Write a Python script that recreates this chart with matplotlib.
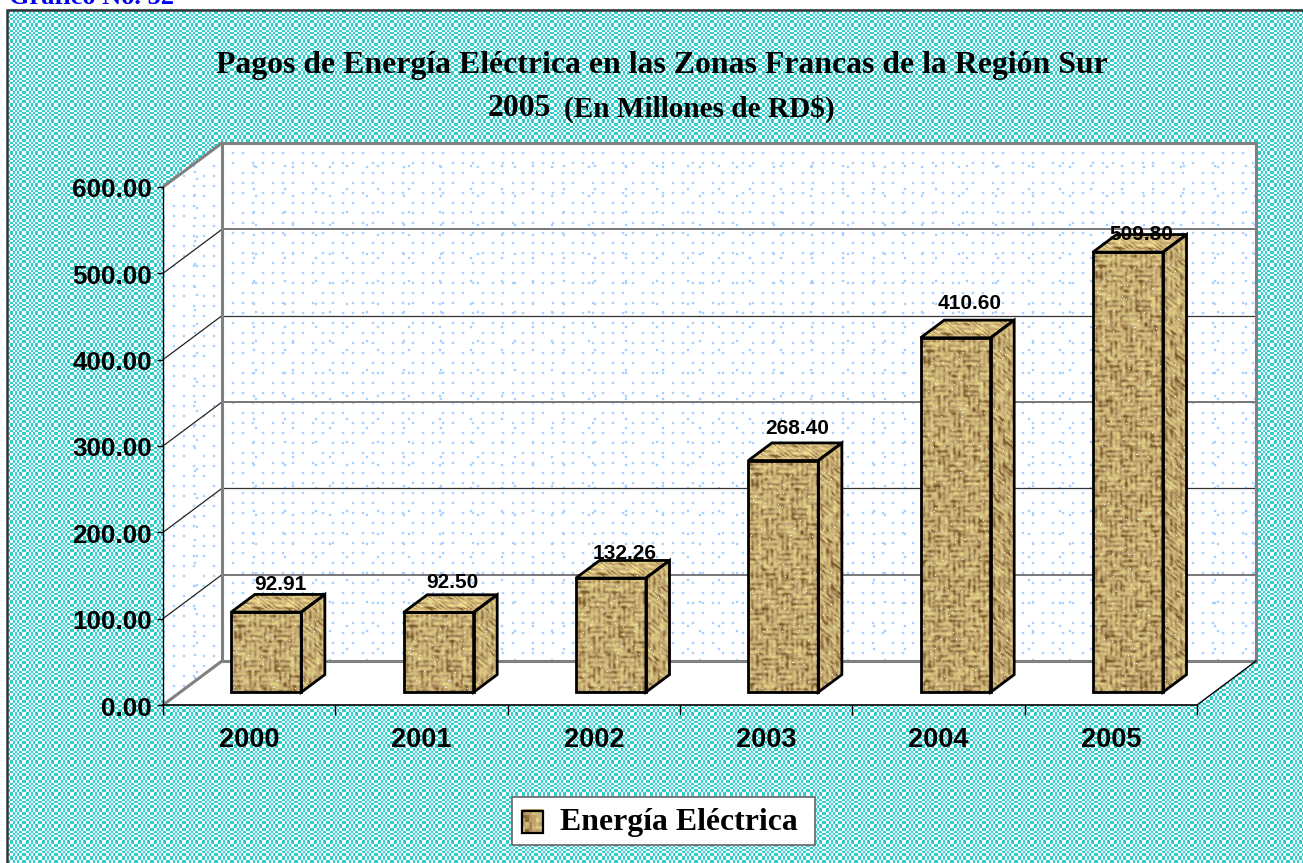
import numpy as np
import matplotlib
matplotlib.use('Agg')
import matplotlib.pyplot as plt
from matplotlib.patches import Patch, Polygon, Rectangle
from matplotlib.path import Path
from matplotlib.transforms import Affine2D, IdentityTransform

years = ['2000', '2001', '2002', '2003', '2004', '2005']
pagos = [92.91, 92.50, 132.26, 268.40, 410.60, 509.80]
etiquetas = ['92.91', '92.50', '132.26', '268.40', '410.60', '509.80']
y_ticks = [0, 100, 200, 300, 400, 500, 600]
titulo = 'Pagos de Energía Eléctrica en las Zonas Francas de la Región Sur'
subtitulo_a = '2005'
subtitulo_b = '(En Millones de RD$)'
leyenda = 'Energía Eléctrica'
grafico = 'Gráfico No. 52'

W, H = 1303, 863
DEPTH = np.array([59.0, 44.0])
BAR_W = 0.406
label_lift = [10, 12, 7, 14, 17, 0]

SANS = 'Liberation Sans'
SERIF = 'Liberation Serif'


def smooth(a):
    return (a + np.roll(a, 1, 0) + np.roll(a, -1, 0) + np.roll(a, 1, 1) + np.roll(a, -1, 1)) / 5


def bands(n):
    # plaid irregular del fondo: bandas de ancho desigual
    widths = [4, 3, 2, 2, 2, 3]
    out = []
    k = 0
    while len(out) < n:
        out += [k] * widths[k % len(widths)]
        k += 1
    return np.array(out[:n])


def background():
    u = bands(W + 20)[10:W + 10]
    v = bands(H + 20)[8:H + 8]
    mask = ((u[None, :] + v[:, None]) % 2 == 0).astype(float)
    mask = 0.85 * mask + 0.15 * smooth(mask)
    teal = np.array([46, 204, 204]) / 255
    img = teal + (1 - teal) * mask[..., None]
    img[:10] = 1
    img[:, :7] = 1
    return img


def dots():
    yy, xx = np.mgrid[0:H, 0:W]
    a = (xx % 10 < 2) & (yy % 10 < 2) & ((xx // 10 + yy // 10) % 4 != 0)
    b = (xx % 31 < 2) & (yy % 23 < 2)
    c = ((xx + 4) % 37 < 2) & ((yy + 5) % 29 < 2)
    mask = (a | b | c).astype(float)
    mask = 0.6 * mask + 0.8 * smooth(mask)
    blue = np.array([165, 208, 255]) / 255
    return 1 + (blue - 1) * np.clip(mask, 0, 1)[..., None]


def hash_noise(xx, yy):
    v = np.sin(xx * 12.9898 + yy * 78.233) * 43758.5453
    return v - np.floor(v)


def weave(w, h):
    yy, xx = np.mgrid[0:h, 0:w]
    block = (xx // 15 + yy // 15) % 2
    horiz = np.sin(2 * np.pi * yy / 5.0)
    vert = np.sin(2 * np.pi * xx / 5.0)
    s = np.where(block == 0, horiz, vert)
    n = hash_noise(xx.astype(float), yy.astype(float))
    lf = n
    for _ in range(4):
        lf = smooth(lf)
    lf = (lf - 0.5) * 5
    t = smooth(0.52 + 0.27 * s + 0.5 * lf + 0.25 * (n - 0.5))
    dark = np.array([122, 92, 42]) / 255
    mid = np.array([194, 166, 114]) / 255
    light = np.array([226, 210, 132]) / 255
    t = np.clip(t, 0, 1)[..., None]
    img = np.where(t < 0.5, dark + (mid - dark) * t * 2, mid + (light - mid) * (t - 0.5) * 2)
    img[n > 0.99] = np.array([240, 240, 225]) / 255
    return img


def shear_x(img, k):
    out = img.copy()
    for r in range(img.shape[0]):
        out[r] = np.roll(img[r], int(r * k), axis=0)
    return out


def shear_y(img, k):
    out = img.copy()
    for c in range(img.shape[1]):
        out[:, c] = np.roll(img[:, c], int(c * k), axis=0)
    return out


fig = plt.figure(figsize=(W / 100, H / 100), dpi=100)

# fondo
bg = fig.add_axes([0, 0, 1, 1], zorder=0)
bg.axis('off')
bg.set_autoscale_on(False)
bg.set_xlim(0, W)
bg.set_ylim(H, 0)
bg.imshow(background(), extent=(0, W, H, 0), aspect='auto', interpolation='nearest')
bg.plot([7, 7, W], [H, 10, 10], color='#333333', lw=1.8, solid_joinstyle='miter')
bg.text(9, 4, grafico, color='#0000ee', family=SERIF, weight='bold', fontsize=19, va='baseline', ha='left')

ax = fig.add_axes([163 / W, 1 - 705 / H, 1034 / W, 518 / H], zorder=1)
ax.patch.set_alpha(0)
ax.set_xlim(-0.5, 5.5)
ax.set_ylim(0, 600)
ax.set_autoscale_on(False)


def pt(x, v, d=0.0):
    return ax.transData.transform((x, v)) + d * DEPTH


def poly(target, points, **kw):
    p = Polygon(np.array(points), closed=True, transform=IdentityTransform(), clip_on=False, **kw)
    target.add_patch(p)
    return p


def line(a, b, **kw):
    bg.plot([a[0], b[0]], [a[1], b[1]], transform=IdentityTransform(), clip_on=False, **kw)


def image(target, img, points, zorder):
    # imagen recortada al poligono, en pixeles de pantalla
    pts = np.array(points)
    x0, y0 = pts.min(axis=0)
    x1, y1 = pts.max(axis=0)
    x0, y0, x1, y1 = np.floor(x0), np.floor(y0), np.ceil(x1), np.ceil(y1)
    h, w = int(y1 - y0), int(x1 - x0)
    im = target.imshow(img[:h, :w], extent=(x0, x1, y0, y1), transform=IdentityTransform(),
                       aspect='auto', interpolation='nearest', origin='upper', zorder=zorder)
    im.set_clip_path(Path(np.vstack([pts, pts[:1]])), IdentityTransform())


x0, x1 = ax.get_xlim()
y0, y1 = ax.get_ylim()

# paredes
wall_pts = [pt(x0, y0, 1), pt(x1, y0, 1), pt(x1, y1, 1), pt(x0, y1, 1)]
side_pts = [pt(x0, y0), pt(x0, y0, 1), pt(x0, y1, 1), pt(x0, y1)]
floor_pts = [pt(x0, y0), pt(x1, y0), pt(x1, y0, 1), pt(x0, y0, 1)]
dots_img = dots()
poly(bg, floor_pts, facecolor='white', edgecolor='none', zorder=1.1)
image(bg, dots_img, wall_pts, 1.2)
image(bg, dots_img[17:], side_pts, 1.2)

# lineas de la rejilla
for i, t in enumerate(y_ticks[1:-1]):
    grey = i % 2 == 0
    c = '#777777' if grey else '#333333'
    lw = 1.4 if grey else 0.9
    line(pt(x0, t, 1), pt(x1, t, 1), color=c, lw=lw, zorder=1.3)
    line(pt(x0, t), pt(x0, t, 1), color='#222222', lw=0.9, zorder=1.3)
gris = dict(color='#808080', lw=2.2, zorder=1.4, solid_capstyle='projecting')
line(pt(x0, y1, 1), pt(x1, y1, 1), **gris)
line(pt(x0, y0, 1), pt(x1, y0, 1), **gris)
line(pt(x0, y0, 1), pt(x0, y1, 1), **gris)
line(pt(x1, y0, 1), pt(x1, y1, 1), **gris)
line(pt(x0, y1), pt(x0, y1, 1), **gris)
line(pt(x0, y0), pt(x0, y0, 1), **gris)
line(pt(x1, y0), pt(x1, y0, 1), color='black', lw=1.0, zorder=1.4)

# barras
D0, D1 = 0.29, 0.69
tex = weave(120, 520)
tex_side = shear_y(weave(40, 520)[::-1], 0.75)
tex_top = shear_x(np.clip(weave(120, 30) * 1.06, 0, 1), 1.3)
for i, v in enumerate(pagos):
    l, r = i - BAR_W / 2, i + BAR_W / 2
    front = [pt(l, 0, D0), pt(r, 0, D0), pt(r, v, D0), pt(l, v, D0)]
    side = [pt(r, 0, D0), pt(r, 0, D1), pt(r, v, D1), pt(r, v, D0)]
    top = [pt(l, v, D0), pt(r, v, D0), pt(r, v, D1), pt(l, v, D1)]
    image(ax, tex, front, 2)
    image(ax, tex_side, side, 2)
    image(ax, tex_top, top, 2)
    for face in (front, side, top):
        poly(ax, face, facecolor='none', edgecolor='black', lw=2.0, joinstyle='miter', zorder=3)
    lx = (pt(l, v, D1)[0] + pt(r, v, D0)[0]) / 2 + 2
    ly = pt(l, v, D1)[1] + label_lift[i]
    ax.text(lx, ly, etiquetas[i], transform=IdentityTransform(), ha='center', va='center',
            family=SANS, weight='bold', fontsize=15, color='black', zorder=5, clip_on=False)

# ejes
for s in ['top', 'right']:
    ax.spines[s].set_visible(False)
ax.spines['left'].set_linewidth(1.0)
ax.spines['bottom'].set_linewidth(1.2)
ax.set_yticks(y_ticks)
ax.set_yticklabels(['%.2f' % t for t in y_ticks], family=SANS, weight='bold', fontsize=18.7)
ax.tick_params(axis='y', length=4, width=1, pad=4)
for lab in ax.get_yticklabels():
    lab.set_transform(lab.get_transform() + Affine2D().translate(0, -1))
ax.set_xticks(np.arange(-0.5, 6, 1))
ax.set_xticklabels([])
ax.set_xticks(np.arange(6), minor=True)
ax.set_xticklabels(years, minor=True, family=SANS, weight='bold', fontsize=19.5)
ax.tick_params(axis='x', which='major', length=7, width=1)
ax.tick_params(axis='x', which='minor', length=0, pad=16)

# titulos
bg.text(662, 66, titulo, family=SERIF, weight='bold', fontsize=22.9, ha='center', va='center')
bg.text(488, 109, subtitulo_a, family=SERIF, weight='bold', fontsize=22.9, ha='left', va='center')
bg.text(564, 109, subtitulo_b, family=SERIF, weight='bold', fontsize=21.1, ha='left', va='center')

# leyenda
bg.add_patch(Rectangle((512, 797), 303, 48, facecolor='white', edgecolor='#666666', lw=1.2, zorder=1.5))
fig.legend(handles=[Patch(facecolor='#c6a66c', edgecolor='none', label=leyenda)],
           loc='center left', bbox_to_anchor=(522 / W, 1 - 822 / H), frameon=False,
           handlelength=0.66, handleheight=0.5, borderpad=0, borderaxespad=0, handletextpad=0.53,
           prop={'family': SERIF, 'weight': 'bold', 'size': 22.9})
over = fig.add_axes([0, 0, 1, 1], zorder=10)
over.patch.set_alpha(0)
over.axis('off')
over.set_autoscale_on(False)
over.set_xlim(0, W)
over.set_ylim(H, 0)
over.imshow(weave(24, 24)[::4, ::4], extent=(522, 543, 833, 811), aspect='auto', interpolation='nearest')
over.add_patch(Rectangle((522, 811), 21, 22, fill=False, edgecolor='black', lw=1.6))

fig.savefig('out.png', dpi=100)
